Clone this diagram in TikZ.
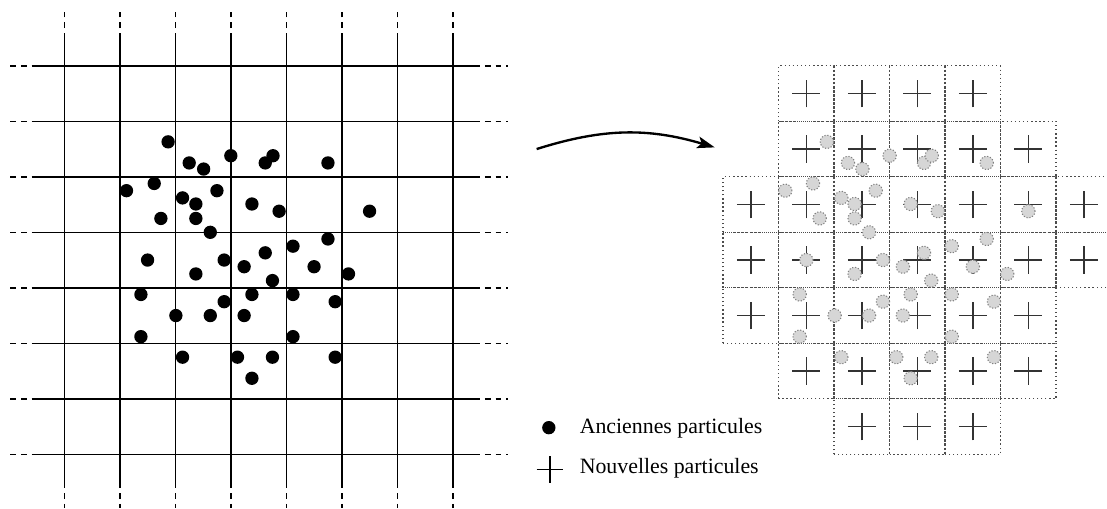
\documentclass[tikz,border=0pt]{standalone}
\usepackage{fontspec}
\setmainfont{Liberation Serif}
\usetikzlibrary{arrows.meta}

% positions des anciennes particules (une unite = une maille)
\newcommand{\oldparticles}{1.87/5.63, 2.25/5.25, 2.51/5.14, 3.00/5.38, 3.62/5.25, 3.76/5.38,
  4.75/5.25, 1.12/4.75, 1.62/4.88, 2.13/4.62, 2.37/4.51, 2.75/4.75, 1.74/4.25, 2.37/4.25,
  2.63/4.00, 3.38/4.51, 3.87/4.38, 5.50/4.38, 1.50/3.50, 2.37/3.25, 2.88/3.50, 3.24/3.38,
  3.62/3.63, 3.75/3.13, 4.12/3.75, 4.75/3.88, 4.50/3.38, 5.12/3.25, 1.38/2.88, 2.01/2.50,
  2.63/2.50, 2.88/2.75, 3.38/2.88, 3.24/2.50, 4.12/2.88, 4.88/2.75, 1.38/2.12, 4.12/2.12,
  2.13/1.75, 3.12/1.75, 3.75/1.75, 3.38/1.37, 4.88/1.75}

\begin{document}
\begin{tikzpicture}[
    gridline/.style={line width=0.75pt},
    gridext/.style={line width=0.75pt, dash pattern=on 3pt off 2.5pt, dash phase=3pt},
    cellbox/.style={draw=black!70, line width=0.7pt, dash pattern=on 0.7pt off 1.4pt},
    oldpart/.style={fill=black},
    ghostpart/.style={fill=black!16, draw=black!50, line width=0.55pt, dash pattern=on 0.6pt off 0.9pt},
    newpart/.style={draw=black!80, line width=0.8pt},
    transform/.style={line width=1.2pt, -{Stealth[length=9pt, width=6pt, inset=2pt]}},
    legendtext/.style={font=\fontsize{11.2}{13}\selectfont, anchor=base west, inner sep=0pt}
  ]
  \useasboundingbox (-1.159,-0.968) rectangle (18.787,8.186);
  \clip (-1.159,-0.968) rectangle (18.787,8.186);

  % maillage de depart
  \foreach \i in {0,...,7} {
    \draw[gridline] (-0.59,\i) -- (7.49,\i);
    \draw[gridext] (-0.59,\i) -- (-1.01,\i);
    \draw[gridext] (7.49,\i) -- (7.99,\i);
    \draw[gridline] (\i,7.59) -- (\i,-0.61);
    \draw[gridext] (\i,7.59) -- (\i,8.01);
    \draw[gridext] (\i,-0.61) -- (\i,-0.97);
  }

  % anciennes particules
  \foreach \px/\py in \oldparticles
    \fill[oldpart] (\px,\py) circle (0.12);

  % transformation
  \coordinate (arrowstart) at (8.51,5.50);
  \coordinate (arrowend) at (11.72,5.53);
  \draw[transform] (arrowstart) to[bend left=17] (arrowend);

  % nouveau maillage et nouvelles particules
  \begin{scope}[xshift=11.87cm]
    \foreach \row/\first/\last in {6/1/4, 5/1/5, 4/0/6, 3/0/6, 2/0/5, 1/1/5, 0/2/4}
      \foreach \k in {\first,...,\last} {
        \draw[cellbox] (\k,\row) rectangle ++(1,1);
        \draw[newpart] (\k+0.25,\row+0.5) -- (\k+0.75,\row+0.5)
                       (\k+0.5,\row+0.25) -- (\k+0.5,\row+0.75);
      }
    \foreach \px/\py in \oldparticles
      \draw[ghostpart] (\px,\py) circle (0.12);
  \end{scope}

  % legende
  \fill[oldpart] (8.73,0.48) circle (0.12);
  \node[legendtext] (oldlabel) at (9.28,0.38) {Anciennes particules};
  \draw[newpart, draw=black] (8.51,-0.27) -- (8.99,-0.27) (8.75,-0.51) -- (8.75,-0.03);
  \node[legendtext] (newlabel) at (9.28,-0.35) {Nouvelles particules};
\end{tikzpicture}
\end{document}
